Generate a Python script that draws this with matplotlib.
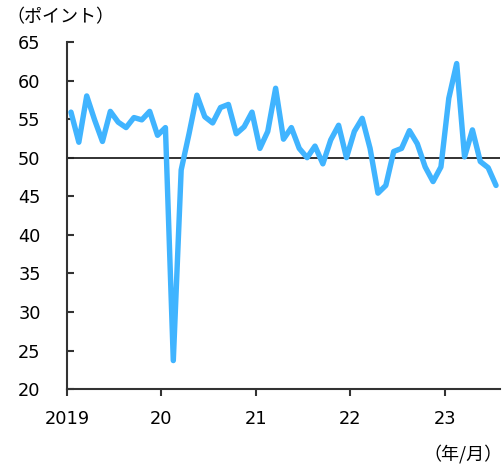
import matplotlib
matplotlib.use("Agg")
import matplotlib.pyplot as plt
import numpy as np

plt.rcParams['font.family'] = ['DejaVu Sans', 'Noto Sans CJK JP']

# Monthly index, 2019/01 - 2023/07
values = [
    55.9, 52.0, 58.0, 54.9, 52.1, 56.0, 54.6, 53.9, 55.2, 54.9, 56.0, 52.9,
    53.9, 23.7, 48.4, 53.1, 58.1, 55.3, 54.5, 56.5, 56.9, 53.1, 54.0, 55.9,
    51.2, 53.4, 59.0, 52.4, 53.9, 51.2, 50.0, 51.5, 49.2, 52.3, 54.2, 50.0,
    53.4, 55.1, 51.2, 45.4, 46.4, 50.8, 51.2, 53.5, 51.8, 48.8, 46.9, 48.8,
    57.7, 62.2, 50.1, 53.6, 49.5, 48.7, 46.4,
]
year_labels = ["2019", "20", "21", "22", "23"]
y_ticks = [20, 25, 30, 35, 40, 45, 50, 55, 60, 65]

fig = plt.figure(figsize=(5.04, 4.66), dpi=100)
ax = fig.add_axes([0.133, 0.165, 0.859, 0.745])

x = np.arange(len(values)) + 0.5
ax.plot(x, values, color="#40B4FF", lw=3.9, solid_joinstyle="round",
        solid_capstyle="round", zorder=3)
ax.axhline(50, color="#222222", lw=1.3, zorder=2)

ax.set_xlim(0, len(values))
ax.set_ylim(20, 65)
ax.set_yticks(y_ticks)
ax.set_yticklabels([str(v) for v in y_ticks], fontsize=12.8)
ax.set_xticks([0, 12, 24, 36, 48])
ax.set_xticklabels(year_labels, fontsize=12.8)

for side in ("top", "right"):
    ax.spines[side].set_visible(False)
for side in ("left", "bottom"):
    ax.spines[side].set_color("#333333")
    ax.spines[side].set_linewidth(1.5)

ax.tick_params(axis="y", direction="in", length=5, width=1.5, color="#333333",
               pad=19, labelcolor="black")
ax.tick_params(axis="x", direction="out", length=5, width=1.5, color="#333333",
               pad=10, labelcolor="black")

fig.text(0.012, 0.962, "（ポイント）", fontsize=13, ha="left", va="center",
         family=["Noto Sans CJK JP", "DejaVu Sans"])
fig.text(0.998, 0.025, "（年/月）", fontsize=13, ha="right", va="center",
         family=["Noto Sans CJK JP", "DejaVu Sans"])

fig.savefig("out.png", dpi=100)
